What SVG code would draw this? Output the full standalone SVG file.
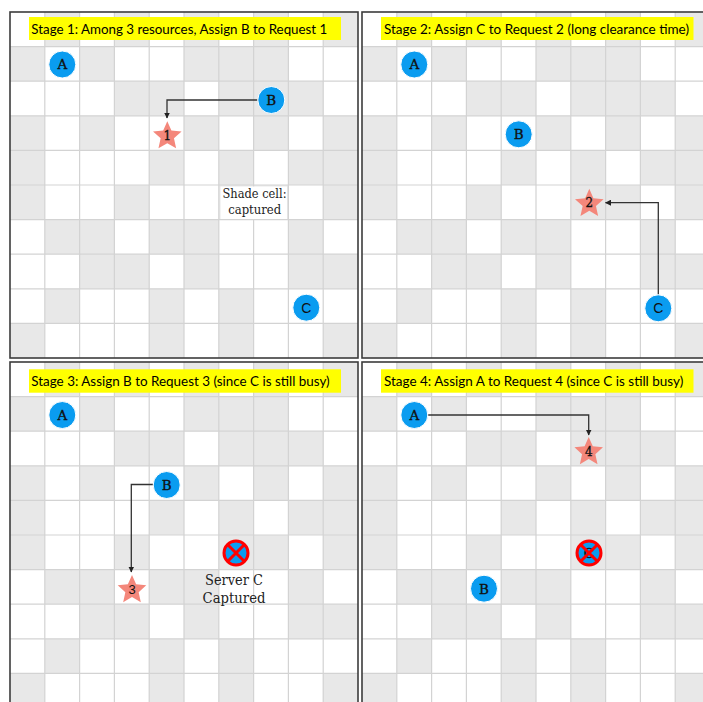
<svg xmlns="http://www.w3.org/2000/svg" width="703" height="702" viewBox="0 0 703 702">
<style>
.s{fill:#e8e8e8}
.gl{stroke:#d3d3d3;stroke-width:1.2;fill:none}
.frame{fill:none;stroke:#3c3c3c;stroke-width:1.6}
.hdr{fill:#ffff00}
.ht{font-family:Lato,"Noto Sans",sans-serif;font-size:14px;fill:#000}
.srv{fill:#0a9cf0;stroke:#ffffff;stroke-width:1}
.mono{font-family:"DejaVu Serif","Liberation Serif",serif;font-size:13.5px;fill:#111;stroke:#111;stroke-width:0.35;text-anchor:middle}
.sans{font-family:"Liberation Sans",Arial,sans-serif;font-size:14px;fill:#111;text-anchor:middle}
.star{fill:#f4877b}
.sn{font-family:"DejaVu Serif","Liberation Serif",serif;font-size:12px;fill:#111;stroke:#111;stroke-width:0.3;text-anchor:middle}
.sns{font-family:"Liberation Sans",Arial,sans-serif;font-size:13px;fill:#111;text-anchor:middle}
.conn path{fill:none;stroke:#333;stroke-width:1.3;marker-end:url(#ah)}
.note{font-family:"DejaVu Serif","Liberation Serif",serif;fill:#222;text-anchor:middle}
.xr{fill:#0a9cf0;stroke:#ff0000;stroke-width:3}
.xl{stroke:#ff0000;stroke-width:3;fill:none}
</style>
<defs>
<marker id="ah" markerWidth="6" markerHeight="6" refX="5.5" refY="3" orient="auto" markerUnits="userSpaceOnUse">
<path d="M0,0 L6,3 L0,6 Z" fill="#222"/>
</marker>
<path id="star" d="M0,-15 L4.11,-5.66 L14.27,-4.64 L6.66,2.16 L8.82,12.14 L0,7 L-8.82,12.14 L-6.66,2.16 L-14.27,-4.64 L-4.11,-5.66 Z"/>
<g id="grid">
<rect x="0" y="0" width="348" height="346" fill="#ffffff"/>
<rect class="s" x="34.8" y="0" width="34.8" height="34.6"/>
<rect class="s" x="104.4" y="0" width="34.8" height="34.6"/>
<rect class="s" x="174" y="0" width="34.8" height="34.6"/>
<rect class="s" x="243.6" y="0" width="34.8" height="34.6"/>
<rect class="s" x="313.2" y="0" width="34.8" height="34.6"/>
<rect class="s" x="0" y="34.6" width="34.8" height="34.6"/>
<rect class="s" x="69.6" y="34.6" width="34.8" height="34.6"/>
<rect class="s" x="174" y="34.6" width="104.4" height="34.6"/>
<rect class="s" x="104.4" y="69.2" width="69.6" height="34.6"/>
<rect class="s" x="208.8" y="69.2" width="104.4" height="34.6"/>
<rect class="s" x="0" y="103.8" width="34.8" height="34.6"/>
<rect class="s" x="69.6" y="103.8" width="34.8" height="34.6"/>
<rect class="s" x="174" y="103.8" width="34.8" height="34.6"/>
<rect class="s" x="243.6" y="103.8" width="34.8" height="34.6"/>
<rect class="s" x="313.2" y="103.8" width="34.8" height="34.6"/>
<rect class="s" x="0" y="138.4" width="34.8" height="34.6"/>
<rect class="s" x="139.2" y="138.4" width="34.8" height="34.6"/>
<rect class="s" x="208.8" y="138.4" width="34.8" height="34.6"/>
<rect class="s" x="278.4" y="138.4" width="69.6" height="34.6"/>
<rect class="s" x="0" y="173" width="34.8" height="34.6"/>
<rect class="s" x="104.4" y="173" width="34.8" height="34.6"/>
<rect class="s" x="208.8" y="173" width="69.6" height="34.6"/>
<rect class="s" x="313.2" y="173" width="34.8" height="34.6"/>
<rect class="s" x="34.8" y="207.6" width="69.6" height="34.6"/>
<rect class="s" x="139.2" y="207.6" width="69.6" height="34.6"/>
<rect class="s" x="278.4" y="207.6" width="34.8" height="34.6"/>
<rect class="s" x="69.6" y="242.2" width="69.6" height="34.6"/>
<rect class="s" x="174" y="242.2" width="34.8" height="34.6"/>
<rect class="s" x="278.4" y="242.2" width="69.6" height="34.6"/>
<rect class="s" x="34.8" y="276.8" width="34.8" height="34.6"/>
<rect class="s" x="139.2" y="276.8" width="34.8" height="34.6"/>
<rect class="s" x="208.8" y="276.8" width="34.8" height="34.6"/>
<rect class="s" x="0" y="311.4" width="34.8" height="34.6"/>
<rect class="s" x="139.2" y="311.4" width="34.8" height="34.6"/>
<rect class="s" x="208.8" y="311.4" width="34.8" height="34.6"/>
<rect class="s" x="313.2" y="311.4" width="34.8" height="34.6"/>
<path class="gl" d="M34.8 0V346M69.6 0V346M104.4 0V346M139.2 0V346M174 0V346M208.8 0V346M243.6 0V346M278.4 0V346M313.2 0V346M0 34.6H348M0 69.2H348M0 103.8H348M0 138.4H348M0 173H348M0 207.6H348M0 242.2H348M0 276.8H348M0 311.4H348"/>
</g>
</defs>
<rect x="0" y="0" width="703" height="702" fill="#ffffff"/>

<g id="panel1">
<use href="#grid" x="10" y="12"/>
<rect class="frame" x="10" y="12" width="348" height="346"/>
<rect class="hdr" x="29" y="17" width="312" height="23"/>
<text class="ht" x="31.3" y="33.5" textLength="296" lengthAdjust="spacingAndGlyphs">Stage 1: Among 3 resources, Assign B to Request 1</text>
</g>
<g id="panel2">
<use href="#grid" x="362" y="12"/>
<rect class="frame" x="362" y="12" width="348" height="346"/>
<rect class="hdr" x="381" y="17" width="312.5" height="23"/>
<text class="ht" x="384" y="33.5" textLength="305" lengthAdjust="spacingAndGlyphs">Stage 2: Assign C to Request 2 (long clearance time)</text>
</g>
<g id="panel3">
<use href="#grid" x="10" y="362"/>
<rect class="frame" x="10" y="362" width="348" height="346"/>
<rect class="hdr" x="29" y="369.3" width="312" height="23.4"/>
<text class="ht" x="31.3" y="386" textLength="298.4" lengthAdjust="spacingAndGlyphs">Stage 3: Assign B to Request 3 (since C is still busy)</text>
</g>
<g id="panel4">
<use href="#grid" x="362" y="362"/>
<rect class="frame" x="362" y="362" width="348" height="346"/>
<rect class="hdr" x="381" y="369.3" width="312.5" height="23.4"/>
<text class="ht" x="384" y="386" textLength="299.3" lengthAdjust="spacingAndGlyphs">Stage 4: Assign A to Request 4 (since C is still busy)</text>
</g>

<g id="connectors" class="conn">
<path d="M257.5 100 H167 V118"/>
<path d="M658.3 294.5 V202.7 H605.5"/>
<path d="M153 484.5 H131.3 V572"/>
<path d="M428 415 H588.7 V435"/>
</g>

<!-- Stage 1 nodes -->
<g id="s1-A"><circle class="srv" cx="62.3" cy="64.5" r="13.5"/><text class="mono" x="62.3" y="69.3">A</text></g>
<g id="s1-B"><circle class="srv" cx="271.3" cy="100" r="13.5"/><text class="mono" x="271.3" y="104.8">B</text></g>
<g id="s1-C"><circle class="srv" cx="306.3" cy="307.7" r="13.5"/><text class="sans" x="306.3" y="312.7">C</text></g>
<g id="s1-R1"><use href="#star" class="star" x="167.3" y="136.2"/><text class="sn" x="167.3" y="139.8">1</text></g>
<g id="s1-note">
<rect x="220.5" y="186.5" width="66.5" height="32.5" fill="#ffffff"/>
<text class="note" x="254.5" y="198" font-size="12" textLength="64" lengthAdjust="spacingAndGlyphs">Shade cell:</text>
<text class="note" x="254.7" y="213.5" font-size="12" textLength="53" lengthAdjust="spacingAndGlyphs">captured</text>
</g>

<!-- Stage 2 nodes -->
<g id="s2-A"><circle class="srv" cx="414.3" cy="64.5" r="13.5"/><text class="mono" x="414.3" y="69.3">A</text></g>
<g id="s2-B"><circle class="srv" cx="518.7" cy="134.3" r="13.5"/><text class="mono" x="518.7" y="139.1">B</text></g>
<g id="s2-C"><circle class="srv" cx="658.3" cy="308.3" r="13.5"/><text class="sans" x="658.3" y="313.3">C</text></g>
<g id="s2-R2"><use href="#star" class="star" x="589.3" y="203.8"/><text class="sn" x="589.3" y="207.3">2</text></g>

<!-- Stage 3 nodes -->
<g id="s3-A"><circle class="srv" cx="62.3" cy="415" r="13.5"/><text class="mono" x="62.3" y="419.8">A</text></g>
<g id="s3-B"><circle class="srv" cx="166.7" cy="485" r="13.5"/><text class="mono" x="166.7" y="489.8">B</text></g>
<g id="s3-R3"><use href="#star" class="star" x="132" y="590"/><text class="sns" x="132" y="593.5">3</text></g>
<g id="s3-C"><circle class="xr" cx="236" cy="553" r="12"/><path class="xl" d="M227.5 544.5 L244.5 561.5 M244.5 544.5 L227.5 561.5"/></g>
<g id="s3-note">
<text class="note" x="234" y="584.5" font-size="14.5" textLength="58" lengthAdjust="spacingAndGlyphs">Server C</text>
<text class="note" x="234" y="602.5" font-size="14.5" textLength="63" lengthAdjust="spacingAndGlyphs">Captured</text>
</g>

<!-- Stage 4 nodes -->
<g id="s4-A"><circle class="srv" cx="414.3" cy="415" r="13.5"/><text class="mono" x="414.3" y="419.8">A</text></g>
<g id="s4-R4"><use href="#star" class="star" x="588.7" y="452"/><text class="sn" x="588.7" y="455.6">4</text></g>
<g id="s4-C"><circle class="xr" cx="589" cy="553" r="12"/><text class="mono" x="589" y="557.8">C</text><path class="xl" d="M580.5 544.5 L597.5 561.5 M597.5 544.5 L580.5 561.5"/></g>
<g id="s4-B"><circle class="srv" cx="484" cy="588.7" r="13.5"/><text class="mono" x="484" y="593.5">B</text></g>
</svg>
